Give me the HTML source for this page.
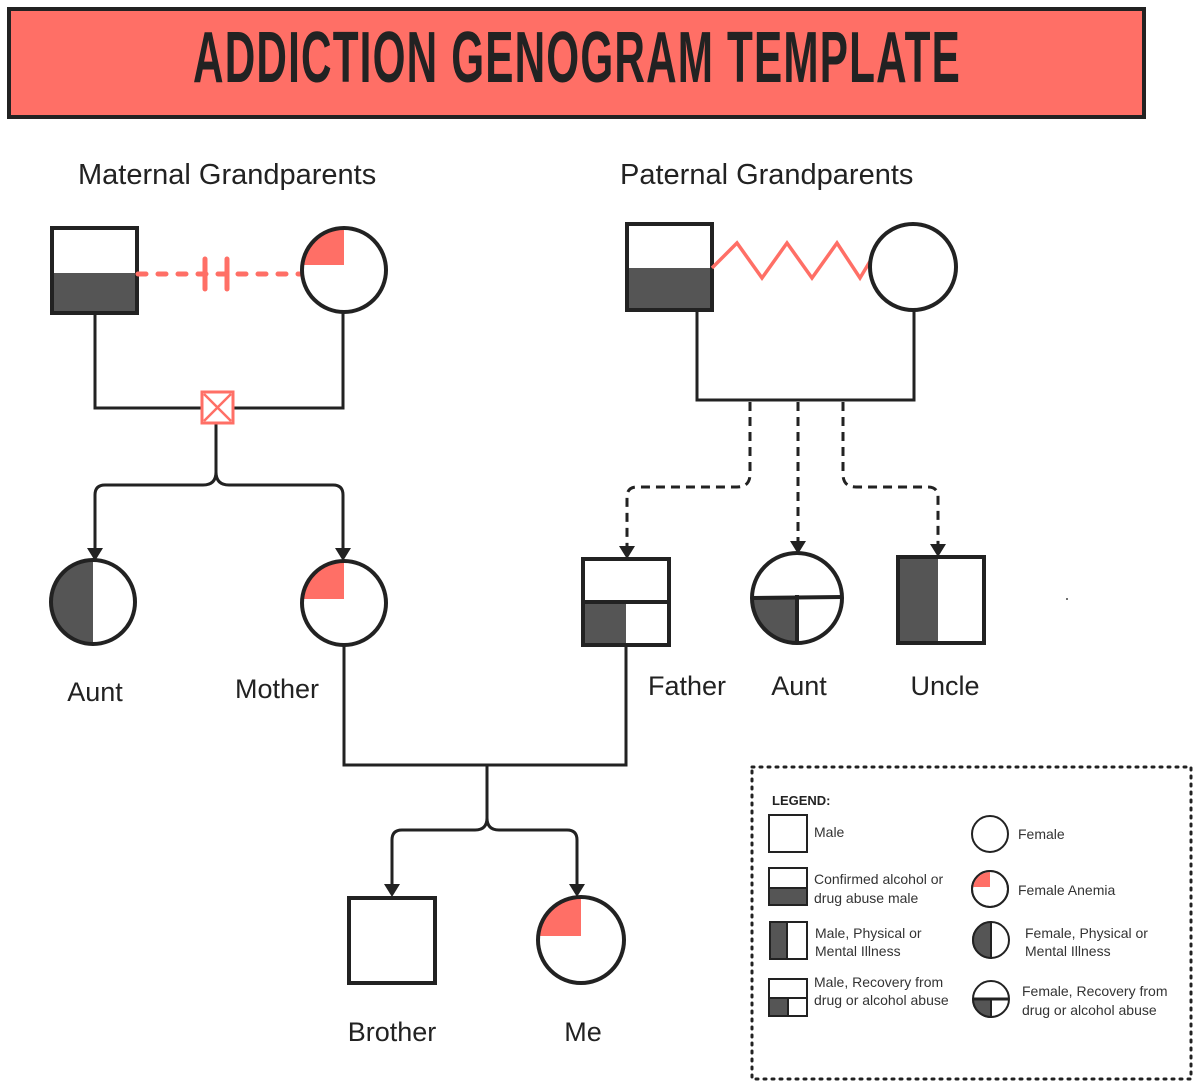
<!DOCTYPE html>
<html><head><meta charset="utf-8"><style>
body{margin:0;background:#fff;}
svg{display:block;font-family:"Liberation Sans",sans-serif;}
</style></head><body>
<svg width="1200" height="1088" viewBox="0 0 1200 1088" xmlns="http://www.w3.org/2000/svg">
<defs>
<clipPath id="c1"><circle cx="344" cy="270" r="41"/></clipPath>
<clipPath id="c2"><circle cx="344" cy="603" r="41"/></clipPath>
<clipPath id="c3"><circle cx="581" cy="940" r="42"/></clipPath>
<clipPath id="c4"><circle cx="990" cy="889" r="17"/></clipPath>
</defs>
<!-- Title -->
<rect x="9" y="9" width="1135" height="108" fill="#FF6F66" stroke="#222" stroke-width="4"/>
<text x="0" y="82" font-size="72" font-weight="bold" fill="#222" transform="translate(577 0) scale(0.587 1)" text-anchor="middle" letter-spacing="2">ADDICTION GENOGRAM TEMPLATE</text>

<g font-size="29" fill="#222">
<text x="78" y="184">Maternal Grandparents</text>
<text x="620" y="184">Paternal Grandparents</text>
</g>
<g font-size="27" fill="#222">
<text x="95" y="701" text-anchor="middle">Aunt</text>
<text x="277" y="698" text-anchor="middle">Mother</text>
<text x="687" y="695" text-anchor="middle">Father</text>
<text x="799" y="695" text-anchor="middle">Aunt</text>
<text x="945" y="695" text-anchor="middle">Uncle</text>
<text x="392" y="1041" text-anchor="middle">Brother</text>
<text x="583" y="1041" text-anchor="middle">Me</text>
</g>

<g stroke="#222" stroke-width="3" fill="none">
<polyline points="95,313 95,408 343,408 343,312"/>
<path d="M216,424 V472 Q216,485 203,485 H105 Q95,485 95,495 V552"/>
<path d="M216,472 Q216,485 229,485 H333 Q343,485 343,495 V552"/>
<polyline points="344,645 344,765 626,765 626,645"/>
<path d="M487,765 V818 Q487,830 475,830 H402 Q392,830 392,840 V890"/>
<path d="M487,818 Q487,830 499,830 H567 Q577,830 577,840 V890"/>
<polyline points="697,310 697,400 914,400 914,310"/>
</g>
<g stroke="#222" stroke-width="3" fill="none" stroke-dasharray="9,6">
<path d="M750,402 V474 Q750,487 737,487 H637 Q627,487 627,497 V548"/>
<path d="M798,402 V545"/>
<path d="M843,402 V474 Q843,487 856,487 H928 Q938,487 938,497 V548"/>
</g>
<g fill="#222">
<polygon points="87,548 103,548 95,561"/>
<polygon points="335,548 351,548 343,561"/>
<polygon points="384,884 400,884 392,897"/>
<polygon points="569,884 585,884 577,897"/>
<polygon points="619,546 635,546 627,559"/>
<polygon points="790,541 806,541 798,554"/>
<polygon points="930,544 946,544 938,557"/>
</g>

<rect x="52" y="228" width="85" height="85" fill="#fff"/>
<rect x="52" y="273" width="85" height="40" fill="#555"/>
<rect x="52" y="228" width="85" height="85" fill="none" stroke="#222" stroke-width="4"/>
<g stroke="#FF6F66" stroke-width="5" stroke-linecap="round">
<line x1="138" y1="274" x2="302" y2="274" stroke-dasharray="8,12"/>
<line x1="205" y1="259" x2="205" y2="289"/>
<line x1="227" y1="259" x2="227" y2="289"/>
</g>
<rect x="202" y="392" width="31" height="31" fill="#fff" stroke="#FF6F66" stroke-width="3"/>
<path d="M204,394 L231,421 M231,394 L204,421" stroke="#FF6F66" stroke-width="2.5"/>
<circle cx="344" cy="270" r="42" fill="#fff"/>
<rect x="300" y="226" width="44" height="39" fill="#FF6F66" clip-path="url(#c1)"/>
<circle cx="344" cy="270" r="42" fill="none" stroke="#222" stroke-width="4"/>

<circle cx="93" cy="602" r="42" fill="#fff"/>
<path d="M93,560 A42,42 0 0 0 93,644 Z" fill="#555"/>
<circle cx="93" cy="602" r="42" fill="none" stroke="#222" stroke-width="4"/>
<circle cx="344" cy="603" r="42" fill="#fff"/>
<rect x="300" y="559" width="44" height="40" fill="#FF6F66" clip-path="url(#c2)"/>
<circle cx="344" cy="603" r="42" fill="none" stroke="#222" stroke-width="4"/>
<circle cx="581" cy="940" r="43" fill="#fff"/>
<rect x="536" y="895" width="45" height="41" fill="#FF6F66" clip-path="url(#c3)"/>
<circle cx="581" cy="940" r="43" fill="none" stroke="#222" stroke-width="4"/>
<rect x="349" y="898" width="86" height="85" fill="#fff" stroke="#222" stroke-width="4"/>

<rect x="627" y="224" width="85" height="86" fill="#fff"/>
<rect x="627" y="268" width="85" height="42" fill="#555"/>
<rect x="627" y="224" width="85" height="86" fill="none" stroke="#222" stroke-width="4"/>
<polyline points="712,268 737,243 762,278 787,243 812,278 837,243 860,278 872,258" fill="none" stroke="#FF6F66" stroke-width="3.5"/>
<circle cx="913" cy="267" r="43" fill="#fff" stroke="#222" stroke-width="4"/>

<rect x="583" y="559" width="86" height="86" fill="#fff"/>
<rect x="583" y="602" width="43" height="43" fill="#555"/>
<rect x="583" y="559" width="86" height="86" fill="none" stroke="#222" stroke-width="4"/>
<line x1="583" y1="602" x2="669" y2="602" stroke="#222" stroke-width="4"/>
<circle cx="797" cy="598" r="45" fill="#fff"/>
<path d="M797,598 H752 A45,45 0 0 0 797,643 Z" fill="#555"/>
<circle cx="797" cy="598" r="45" fill="none" stroke="#222" stroke-width="4"/>
<line x1="752" y1="598" x2="842" y2="597" stroke="#222" stroke-width="4"/>
<line x1="797" y1="595" x2="797" y2="643" stroke="#222" stroke-width="4"/>
<rect x="898" y="557" width="86" height="86" fill="#fff"/>
<rect x="898" y="557" width="40" height="86" fill="#555"/>
<rect x="898" y="557" width="86" height="86" fill="none" stroke="#222" stroke-width="4"/>
<circle cx="1067" cy="599" r="1" fill="#444"/>

<rect x="752" y="767" width="439" height="312" fill="none" stroke="#222" stroke-width="3" stroke-dasharray="2,6" stroke-linecap="round"/>
<g font-size="14" fill="#333">
<text x="772" y="805" font-weight="bold" fill="#222" font-size="13">LEGEND:</text>
<text x="814" y="837">Male</text>
<text x="814" y="884">Confirmed alcohol or</text>
<text x="814" y="903">drug abuse male</text>
<text x="815" y="938">Male, Physical or</text>
<text x="815" y="956">Mental Illness</text>
<text x="814" y="987">Male, Recovery from</text>
<text x="814" y="1005">drug or alcohol abuse</text>
<text x="1018" y="839">Female</text>
<text x="1018" y="895">Female Anemia</text>
<text x="1025" y="938">Female, Physical or</text>
<text x="1025" y="956">Mental Illness</text>
<text x="1022" y="996">Female, Recovery from</text>
<text x="1022" y="1015">drug or alcohol abuse</text>
</g>
<g stroke="#222" stroke-width="2">
<rect x="769" y="815" width="38" height="37" fill="#fff"/>
<rect x="769" y="868" width="38" height="37" fill="#fff"/>
<rect x="769" y="888" width="38" height="17" fill="#555"/>
<rect x="770" y="922" width="37" height="37" fill="#fff"/>
<rect x="770" y="922" width="17" height="37" fill="#555"/>
<rect x="769" y="979" width="38" height="37" fill="#fff"/>
<rect x="769" y="998" width="19" height="18" fill="#555"/>
<line x1="769" y1="998" x2="807" y2="998"/>
<circle cx="990" cy="834" r="18" fill="#fff"/>
<circle cx="990" cy="889" r="18" fill="#fff"/>
<circle cx="991" cy="940" r="18" fill="#fff"/>
<path d="M991,922 A18,18 0 0 0 991,958 Z" fill="#555"/>
<circle cx="991" cy="999" r="18" fill="#fff"/>
<path d="M991,999 H973 A18,18 0 0 0 991,1017 Z" fill="#555"/>
<line x1="973" y1="999" x2="1009" y2="999" stroke-width="3"/>
<line x1="991" y1="999" x2="991" y2="1017"/>
</g>
<rect x="972" y="871" width="18" height="16" fill="#FF6F66" clip-path="url(#c4)"/>
<circle cx="990" cy="889" r="18" fill="none" stroke="#222" stroke-width="2"/>
</svg>
</body></html>
